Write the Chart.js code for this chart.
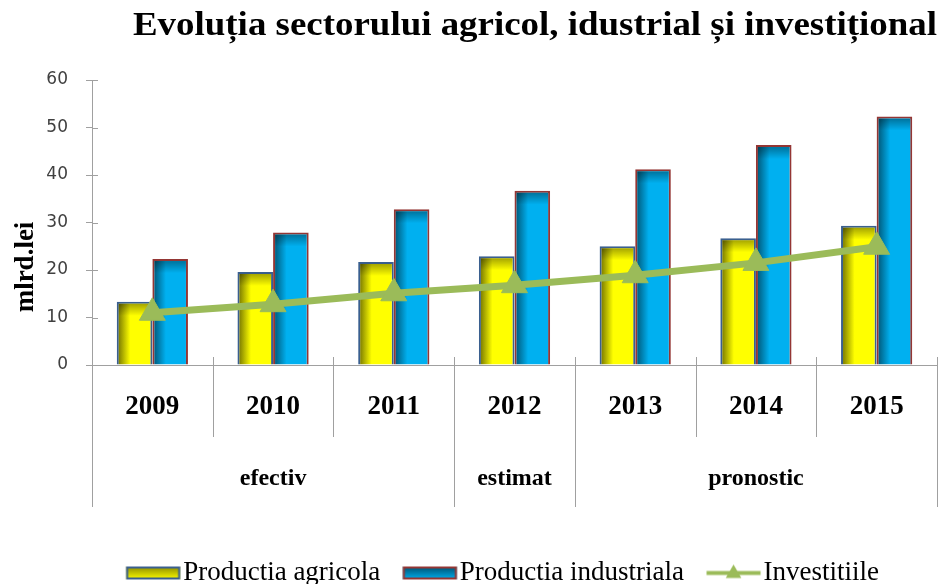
<!DOCTYPE html>
<html><head><meta charset="utf-8">
<script src="https://cdn.jsdelivr.net/npm/chart.js@4.4.1/dist/chart.umd.min.js"></script>
<style>html,body{margin:0;padding:0;background:#fff;overflow:hidden}</style>
</head><body>
<canvas id="c" width="943" height="596" style="width:943px;height:596px;display:block"></canvas>
<script>
const titleText = 'Evoluția sectorului agricol, idustrial și investițional';
const yAxisTitle = 'mlrd.lei';
const years = ['2009','2010','2011','2012','2013','2014','2015'];
const groupLabels = ['efectiv','estimat','pronostic'];
const groupSpans = [3,1,3];
const seriesNames = ['Productia agricola','Productia industriala','Investitiile'];
const agricola = [13.3,19.6,21.7,22.9,25.0,26.7,29.3];
const industriala = [22.3,27.9,32.8,36.7,41.2,46.3,52.3];
const investitii = [11.0,12.8,15.1,16.8,18.9,21.5,24.9];
const yMin = 0, yMax = 60, yStep = 10;

const CAT_PCT = 0.59;
const GREEN = '#9BBB59';
const AXIS = '#A0A0A0';

function barGradient(ctx, dark, light) {
  const chart = ctx.chart;
  const xs = chart.scales && chart.scales.x;
  if (!xs || ctx.dataIndex === undefined || !xs.width) return light;
  const center = xs.getPixelForValue(ctx.dataIndex);
  const catW = xs.width / years.length;
  const barW = catW * CAT_PCT / 2;
  const left = ctx.datasetIndex === 0 ? center - barW : center;
  const g = chart.ctx.createLinearGradient(left, 0, left + barW, 0);
  g.addColorStop(0, dark);
  g.addColorStop(0.38, light);
  g.addColorStop(1, light);
  return g;
}

function makeSwatch(kind) {
  const cv = document.createElement('canvas');
  cv.width = 82; cv.height = 18;
  const c = cv.getContext('2d');
  const x0 = 1.5, w = 54, y0 = 3, h = 13;
  if (kind === 'line') {
    c.strokeStyle = GREEN; c.lineWidth = 4;
    c.beginPath(); c.moveTo(x0, 9.5); c.lineTo(x0 + w, 9.5); c.stroke();
    const cx = x0 + w / 2, cy = 10, r = 9;
    c.fillStyle = GREEN; c.beginPath();
    for (let k = 0; k < 3; k++) {
      const a = k * 2 * Math.PI / 3;
      const px = cx + Math.sin(a) * r, py = cy - Math.cos(a) * r;
      k ? c.lineTo(px, py) : c.moveTo(px, py);
    }
    c.closePath(); c.fill();
  } else {
    const yellow = kind === 'agr';
    const g = c.createLinearGradient(0, y0, 0, y0 + h);
    g.addColorStop(0, yellow ? '#8a8a00' : '#00506e');
    g.addColorStop(1, yellow ? '#ffff00' : '#00b0f0');
    c.fillStyle = g; c.fillRect(x0, y0, w, h);
    c.strokeStyle = yellow ? '#3A5F8F' : '#943634'; c.lineWidth = 2;
    c.strokeRect(x0 + 1, y0 + 1, w - 2, h - 2);
  }
  return cv;
}
const swatches = [makeSwatch('agr'), makeSwatch('ind'), makeSwatch('line')];

const decorPlugin = {
  id: 'decor',
  afterDatasetDraw(chart, args) {
    if (args.index > 1) return;
    const c = chart.ctx;
    c.save();
    args.meta.data.forEach(el => {
      const p = el.getProps(['x', 'y', 'width', 'base'], true);
      const left = p.x - p.width / 2 + 2;
      const g = c.createLinearGradient(0, p.y + 2, 0, p.y + 14);
      g.addColorStop(0, 'rgba(0,0,0,0.35)');
      g.addColorStop(1, 'rgba(0,0,0,0)');
      c.fillStyle = g;
      c.fillRect(left, p.y + 2, p.width - 4, 12);
    });
    c.restore();
  },
  afterDraw(chart) {
    const c = chart.ctx;
    const xs = chart.scales.x;
    const ys = chart.scales.y;
    const area = chart.chartArea;
    const n = years.length;
    // main title (condensed)
    c.save();
    c.font = 'bold 33px "Liberation Serif"';
    const tw = c.measureText(titleText).width;
    c.translate(133, 35);
    c.scale(804 / tw, 1);
    c.fillStyle = '#000'; c.textAlign = 'left'; c.textBaseline = 'alphabetic';
    c.fillText(titleText, 0, 0);
    c.restore();
    // y axis title
    c.save();
    c.font = 'bold 27px "Liberation Serif"';
    c.translate(33, 267);
    c.rotate(-Math.PI / 2);
    c.fillStyle = '#000'; c.textAlign = 'center'; c.textBaseline = 'alphabetic';
    c.fillText(yAxisTitle, 0, 0);
    c.restore();
    // y tick marks crossing the axis (inner half)
    c.save();
    c.strokeStyle = AXIS; c.lineWidth = 1;
    ys.ticks.forEach(t => {
      const y = Math.round(ys.getPixelForValue(t.value)) + 0.5;
      c.beginPath(); c.moveTo(area.left, y); c.lineTo(area.left + 6, y); c.stroke();
    });
    c.restore();
    // multi-level category dividers
    const bounds = new Set([0]);
    let cum = 0;
    groupSpans.forEach(s => { cum += s; bounds.add(cum); });
    const bx = i => i === 0 ? xs.left : (i === n ? xs.right : (xs.getPixelForValue(i - 1) + xs.getPixelForValue(i)) / 2);
    c.save();
    c.strokeStyle = AXIS; c.lineWidth = 1;
    for (let i = 0; i <= n; i++) {
      const x = Math.round(bx(i)) + 0.5;
      const yEnd = bounds.has(i) ? area.bottom + 142 : area.bottom + 72;
      c.beginPath(); c.moveTo(x, area.bottom - (i === 0 ? 0 : 8)); c.lineTo(x, yEnd); c.stroke();
    }
    c.font = 'bold 24px "Liberation Serif"';
    c.fillStyle = '#000'; c.textAlign = 'center'; c.textBaseline = 'alphabetic';
    let start = 0;
    groupLabels.forEach((lab, gi) => {
      const end = start + groupSpans[gi];
      c.fillText(lab, (bx(start) + bx(end)) / 2, area.bottom + 120);
      start = end;
    });
    c.restore();
  }
};

new Chart(document.getElementById('c'), {
  data: {
    labels: years,
    datasets: [
      { type: 'bar', label: seriesNames[0], data: agricola,
        backgroundColor: ctx => barGradient(ctx, '#6a6a00', '#ffff00'),
        borderColor: '#3A5F8F', borderWidth: 2, order: 1,
        categoryPercentage: CAT_PCT, barPercentage: 1 },
      { type: 'bar', label: seriesNames[1], data: industriala,
        backgroundColor: ctx => barGradient(ctx, '#00506e', '#00B0F0'),
        borderColor: '#943634', borderWidth: 2, order: 1,
        categoryPercentage: CAT_PCT, barPercentage: 1 },
      { type: 'line', label: seriesNames[2], data: investitii,
        borderColor: GREEN, borderWidth: 7, backgroundColor: GREEN,
        pointStyle: 'triangle', pointRadius: 15, pointBackgroundColor: GREEN,
        pointBorderColor: GREEN, pointBorderWidth: 1, tension: 0, order: 0 }
    ]
  },
  options: {
    responsive: false,
    animation: false,
    layout: { autoPadding: false, padding: { top: 80, left: 0, right: 6, bottom: 0 } },
    plugins: {
      title: { display: false },
      tooltip: { enabled: false },
      legend: {
        display: true, position: 'bottom', fullSize: true, align: 'end',
        labels: {
          usePointStyle: true, pointStyleWidth: 8, boxHeight: 14, padding: 58,
          color: '#000', font: { family: 'Liberation Serif', size: 27 },
          generateLabels: chart => seriesNames.map((name, i) => ({
            text: name, pointStyle: swatches[i], fillStyle: 'rgba(0,0,0,0)',
            strokeStyle: 'rgba(0,0,0,0)', lineWidth: 0, fontColor: '#000',
            hidden: !chart.isDatasetVisible(i), datasetIndex: i
          }))
        }
      }
    },
    scales: {
      x: {
        type: 'category', offset: true,
        grid: { display: false, drawTicks: false },
        border: { display: true, color: AXIS, width: 1 },
        ticks: { color: '#000', font: { family: 'Liberation Serif', size: 27, weight: 'bold' },
                 padding: 26, maxRotation: 0, autoSkip: false },
        afterFit: s => { s.height = 136; s.paddingLeft = 0; s.paddingRight = 0; }
      },
      y: {
        min: yMin, max: yMax,
        grid: { display: true, drawOnChartArea: false, drawTicks: true, tickLength: 6, color: AXIS },
        border: { display: true, color: AXIS, width: 1 },
        ticks: { stepSize: yStep, color: '#404040', font: { family: 'DejaVu Sans', size: 17 }, padding: 18 },
        afterFit: s => { s.width = 92; }
      }
    }
  },
  plugins: [decorPlugin]
});
</script>
</body></html>
